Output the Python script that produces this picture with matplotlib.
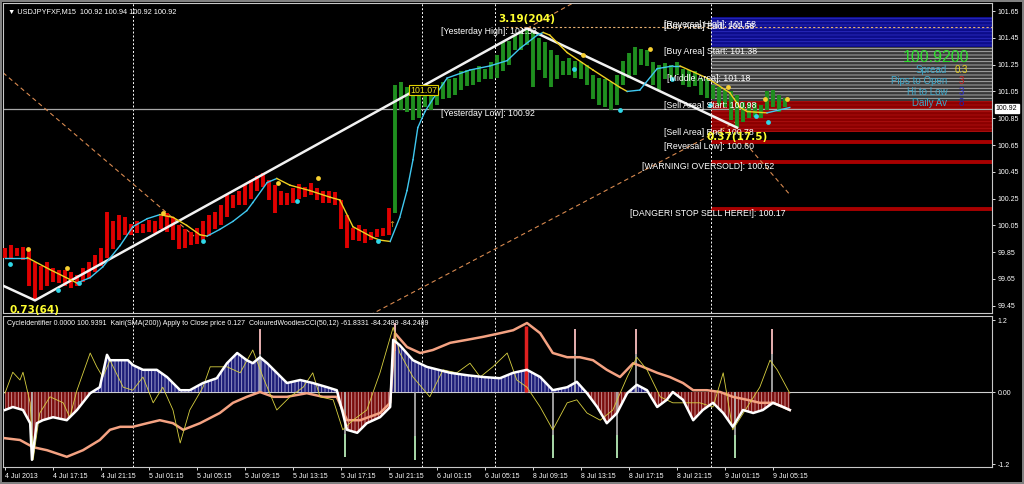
import matplotlib.pyplot as plt
import matplotlib.transforms as mtransforms

plt.rcParams['font.family'] = ['Liberation Sans', 'DejaVu Sans']
plt.rcParams['hatch.linewidth'] = 0.6

# price bars, one entry per bar on the chart
bar_high = [99.88, 99.90, 99.88, 99.89, 99.87, 99.78, 99.75, 99.78, 99.73, 99.72,
            99.72, 99.70, 99.68, 99.73, 99.78, 99.83, 99.88, 100.15, 100.08, 100.13,
            100.11, 100.06, 100.08, 100.06, 100.09, 100.08, 100.12, 100.14, 100.11, 100.05,
            100.02, 100.00, 100.03, 100.08, 100.13, 100.15, 100.20, 100.28, 100.28, 100.31,
            100.35, 100.39, 100.42, 100.44, 100.39, 100.35, 100.31, 100.29, 100.33, 100.36,
            100.34, 100.37, 100.33, 100.31, 100.31, 100.30, 100.24, 100.13, 100.03, 100.05,
            100.02, 100.00, 100.02, 100.03, 100.18,
            101.10, 101.12, 101.08, 101.05, 101.06, 101.08, 101.08, 101.10, 101.12, 101.14,
            101.15, 101.20, 101.21, 101.22, 101.24, 101.22, 101.27, 101.32, 101.42, 101.43,
            101.47, 101.49, 101.51, 101.49, 101.45, 101.42, 101.36, 101.32, 101.28, 101.30,
            101.28, 101.27, 101.25, 101.17, 101.15, 101.14, 101.12, 101.17, 101.28, 101.34,
            101.38, 101.37, 101.36, 101.27, 101.25, 101.26, 101.25, 101.27, 101.22, 101.21,
            101.20, 101.15, 101.14, 101.10, 101.08, 101.06, 101.05, 101.02, 100.97, 100.96,
            100.96, 100.95, 101.05, 101.06, 101.02, 101.00]
bar_low = [99.81, 99.81, 99.82, 99.79, 99.60, 99.49, 99.57, 99.60, 99.63, 99.62,
           99.60, 99.58, 99.60, 99.63, 99.66, 99.70, 99.75, 99.81, 99.87, 99.94,
           99.98, 99.98, 99.99, 99.99, 100.00, 99.99, 100.02, 100.00, 99.94, 99.87,
           99.88, 99.90, 99.91, 99.94, 99.97, 100.02, 100.05, 100.11, 100.18, 100.20,
           100.20, 100.25, 100.31, 100.34, 100.24, 100.14, 100.20, 100.20, 100.22, 100.25,
           100.26, 100.28, 100.24, 100.22, 100.22, 100.20, 100.02, 99.88, 99.94, 99.93,
           99.92, 99.94, 99.96, 99.97, 99.98,
           100.14, 100.91, 100.90, 100.84, 100.85, 100.93, 100.91, 100.95, 100.99, 101.00,
           101.02, 101.06, 101.09, 101.10, 101.12, 101.14, 101.14, 101.15, 101.20, 101.25,
           101.36, 101.36, 101.40, 101.08, 101.21, 101.15, 101.08, 101.14, 101.17, 101.17,
           101.15, 101.14, 101.10, 100.99, 100.95, 100.93, 100.91, 100.95, 101.10, 101.15,
           101.17, 101.25, 101.24, 101.10, 101.06, 101.14, 101.15, 101.17, 101.10, 101.08,
           101.09, 101.02, 101.00, 100.99, 100.94, 100.93, 100.84, 100.78, 100.82, 100.85,
           100.86, 100.85, 100.91, 100.93, 100.90, 100.93]
first_up_bar = 65
current_price = 100.92

# moving average (colour follows direction)
ma_bar = [0, 3.7, 7.5, 12, 14.2, 16.3, 19.2, 21.3, 23.7, 25.8, 28, 30.3, 32.5, 33.7, 35.8,
          38, 40.3, 41.3, 43.7, 45.3, 47.5, 50.8, 54.2, 55.8, 58, 61.3, 62.5, 64.2, 65.8, 67,
          68, 68.8, 70, 71.7, 73.7, 77.5, 80.8, 83.7, 85.8, 88.7, 89.7, 90.8, 93.7, 98, 102.5,
          103.7, 105.8, 108.7, 111.3, 112.5, 117, 120.8, 122.5, 123.7, 127, 130.8]
ma_price = [99.81, 99.81, 99.72, 99.62, 99.66, 99.74, 99.90, 100.04, 100.10, 100.13,
            100.11, 100.05, 99.98, 99.97, 100.02, 100.08, 100.16, 100.22, 100.37, 100.40,
            100.35, 100.31, 100.26, 100.24, 100.04, 99.96, 99.94, 99.93, 100.11, 100.31,
            100.54, 100.78, 100.90, 101.02, 101.15, 101.21, 101.24, 101.28, 101.37, 101.47,
            101.49, 101.47, 101.34, 101.21, 101.08, 101.05, 101.06, 101.22, 101.24, 101.24,
            101.15, 101.04, 100.93, 100.90, 100.89, 100.93]

frac_up_bar = [3.8, 10.3, 26.3, 45.5, 52.2, 96.3, 107.5, 120.5, 126.7, 130.3]
frac_up_price = [99.87, 99.73, 100.14, 100.37, 100.40, 101.32, 101.37, 101.08, 100.99, 100.99]
frac_dn_bar = [0.8, 8.8, 12.3, 33, 48.7, 62.2, 94.8, 102.5, 111.2, 117.5, 125.2, 127.2]
frac_dn_price = [99.76, 99.57, 99.62, 99.93, 100.23, 99.93, 101.22, 100.91, 101.14, 100.95, 100.87, 100.82]

zigzag_bar = [-0.33, 5, 87, 122]
zigzag_price = [99.60, 99.49, 101.52, 100.78]
zigzag_text = ['', '0.73(64)', '3.19(204)', '0.37(17.5)']

ext_bar = [87, 96.5]
ext_price = [101.52, 101.755]
channel_bar = [60.8, 121.7]
channel_price = [99.38, 100.82]
fan_bar = [-0.33, 31.5]
fan_price = [101.19, 99.97]
proj_bar = [122.5, 130.8]
proj_price = [100.71, 100.28]

session_start = [21.4, 69.5, 81.6, 117.6]
yday_high = 101.53
yday_high_from = 83.5
yday_low = 100.92

buy_zone = [101.38, 101.605]
mid_zone = [100.98, 101.38]
sell_zone = [100.75, 100.98]
warn_levels = [100.67, 100.52, 100.17]

level_text = ['[Reversal High]: 101.58', '[Buy Area] End: 101.58', '[Buy Area] Start: 101.38',
              '[Middle Area]: 101.18', '[Sell Area] Start: 100.98', '[Sell Area] End: 100.78',
              '[Reversal Low]: 100.60', '[WARNING! OVERSOLD]: 100.52',
              '[DANGER! STOP SELL HERE!]: 100.17', '[Yesterday High]: 101.53',
              '[Yesterday Low]: 100.92']
level_price = [101.58, 101.565, 101.38, 101.18, 100.98, 100.78, 100.67, 100.52, 100.17,
               101.53, 100.92]
level_bar = [109.8, 109.8, 109.8, 110.3, 109.8, 109.8, 109.8, 106.1, 104.1, 72.6, 72.6]

price_ticks = [99.45, 99.65, 99.85, 100.05, 100.25, 100.45, 100.65, 100.85, 101.05,
               101.25, 101.45, 101.65]

info_names = ['Spread', 'Pips to Open', 'Hi to Low', 'Daily Av']
info_values = ['0.3', '3', '3', '8']
info_colors = ['#e8d020', '#d02020', '#3030d0', '#2020a8']

# indicator window
cci_bar = [0, 1.3, 3, 4.2, 4.5, 5.3, 6.3, 8, 10.3, 12, 14.2, 15.8, 17, 17.5, 19.2, 20.5,
           21.3, 23, 25.3, 27, 29.2, 30.8, 33, 35.3, 37, 38.7, 40.3, 41.3, 42.5, 43.7, 45.3,
           47, 49.2, 51.3, 53.7, 55.3, 56.3, 57, 58.7, 60.3, 62.5, 64.2, 64.7, 65.8, 68, 70.3,
           74.2, 77, 79.7, 82.5, 84.7, 87, 89.2, 91.3, 93.7, 95.3, 97, 98.7, 100.3, 102, 103.7,
           105.3, 107, 108.7, 110.3, 111.3, 113, 114.7, 116.3, 118, 119.7, 121.3, 123, 124.7,
           126.3, 128, 129.7, 130.8]
cci_val = [-0.30, -0.25, -0.30, -0.52, -1.13, -0.52, -0.47, -0.42, -0.47, -0.30, -0.02, 0.08,
           0.62, 0.53, 0.53, 0.53, 0.45, 0.37, 0.37, 0.25, 0.03, 0.03, 0.15, 0.23, 0.48, 0.65,
           0.53, 0.48, 0.58, 0.48, 0.32, 0.15, 0.20, 0.15, 0.08, 0.03, -0.35, -0.63, -0.68,
           -0.52, -0.42, -0.25, 0.87, 0.78, 0.53, 0.42, 0.32, 0.28, 0.25, 0.23, 0.32, 0.37,
           0.25, 0.03, 0.08, 0.17, -0.02, -0.25, -0.52, -0.35, -0.02, 0.12, 0.03, -0.25, -0.13,
           0.0, -0.13, -0.47, -0.30, -0.18, -0.35, -0.58, -0.30, -0.35, -0.30, -0.18, -0.25,
           -0.30]
fast_bar = [0, 1.3, 2.5, 3, 4.2, 4.7, 5.8, 7.5, 9.7, 10.8, 12, 14.2, 15.3, 16.3, 17.5, 19.7,
            21.3, 23, 24.7, 26.3, 28, 29.2, 30.8, 33, 34.2, 37, 39.2, 41.3, 43, 45.3, 47.5,
            49.7, 51.3, 52.5, 54.7, 56.3, 58, 60.3, 62.5, 64.7, 65.8, 68, 70.8, 73, 75.3, 77.5,
            79.2, 81.3, 83.7, 85.3, 87, 89.2, 91.3, 93.7, 95.3, 97, 99.2, 101.3, 103.7, 105.3,
            107, 109.2, 111.3, 113.7, 115.8, 118, 119.7, 121.3, 123.7, 125.8, 127.5, 128.7, 130.8]
fast_val = [-0.02, 0.33, 0.20, 0.33, -0.18, -1.13, -0.35, -0.08, -0.18, -0.42, 0.03, 0.65,
            0.42, 0.25, 0.53, 0.08, 0.03, 0.25, -0.18, 0.08, -0.30, -0.85, -0.30, 0.08, 0.42,
            0.42, 0.32, 0.70, 0.25, -0.30, -0.08, 0.08, 0.32, -0.08, -0.13, -0.63, -0.47, -0.30,
            0.32, 1.08, 0.65, 0.25, -0.08, 0.37, 0.32, 0.48, 0.25, 0.42, 0.65, 0.20, 0.08,
            -0.25, -0.63, -0.18, -0.13, -0.35, -0.47, -0.30, 0.25, 0.58, 0.37, -0.08, -0.18,
            -0.18, -0.18, -0.25, 0.32, -0.63, -0.25, 0.08, 0.53, 0.37, -0.02]
kairi_bar = [0, 2.5, 4.7, 7, 10.3, 13, 15.8, 17.5, 19.2, 21.3, 23.7, 25.8, 28, 29.7, 32.5,
             35.8, 38, 40.3, 42.5, 44.7, 47, 50.3, 53, 55.3, 57, 59.2, 62.5, 64.2, 65, 67, 69.2,
             71.3, 74.2, 77, 79.7, 82.5, 84.7, 87, 89.2, 91.3, 93.7, 95.8, 98, 100.3, 102.5,
             104.7, 106.3, 108.7, 110.8, 113, 114.7, 117, 119.2, 121.3, 123.7, 125.8, 128, 130.8]
kairi_val = [-0.77, -0.80, -0.92, -0.97, -1.08, -0.97, -0.80, -0.63, -0.58, -0.58, -0.52,
             -0.47, -0.52, -0.63, -0.52, -0.35, -0.18, -0.08, 0.0, -0.08, -0.08, -0.02, -0.08,
             -0.08, -0.47, -0.47, -0.35, -0.18, 0.98, 0.75, 0.65, 0.70, 0.82, 0.87, 0.92, 0.98,
             1.03, 1.15, 0.98, 0.65, 0.58, 0.58, 0.53, 0.37, 0.25, 0.48, 0.42, 0.32, 0.25, 0.15,
             0.03, 0.03, 0.0, -0.08, -0.13, -0.18, -0.18, -0.30]
spike_up_bar = [42.5, 65, 95, 105.2, 127.8]
spike_up_val = [1.05, 1.15, 1.05, 1.05, 1.05]
spike_dn_bar = [4.5, 56.7, 68.3, 91.3, 102, 121.7]
spike_dn_val = [-1.13, -1.08, -1.13, -1.1, -1.1, -1.1]
red_spike_bar = 86.8
red_spike_val = 1.1

tick_bar = [0, 8, 16, 24, 32, 40, 48, 56, 64, 72, 80, 88, 96, 104, 112, 120, 128]
tick_labels = ['4 Jul 2013', '4 Jul 17:15', '4 Jul 21:15', '5 Jul 01:15', '5 Jul 05:15',
               '5 Jul 09:15', '5 Jul 13:15', '5 Jul 17:15', '5 Jul 21:15', '6 Jul 01:15',
               '6 Jul 05:15', '8 Jul 09:15', '8 Jul 13:15', '8 Jul 17:15', '8 Jul 21:15',
               '9 Jul 01:15', '9 Jul 05:15']

XMIN, XMAX = -0.33, 164.5


def style_axes(ax):
    ax.set_facecolor('black')
    for s in ax.spines.values():
        s.set_color('#c8c8c8')
        s.set_linewidth(0.8)
    ax.yaxis.tick_right()
    ax.tick_params(axis='y', colors='white', labelsize=5, length=2, pad=2, width=0.6)
    ax.set_xlim(XMIN, XMAX)
    for x in session_start:
        ax.axvline(x, color='white', lw=0.7, ls=(0, (2, 2)), zorder=1)


def draw_price(ax):
    style_axes(ax)
    ax.set_ylim(99.396, 101.71)
    ax.tick_params(axis='x', bottom=False, labelbottom=False)
    ax.set_yticks(price_ticks, ['%.2f' % p for p in price_ticks])

    # zones to the right of the last session start
    x0 = session_start[-1]
    ax.fill_between([x0, XMAX], *buy_zone, facecolor='#0c0c8a', edgecolor='#2c2cc0',
                    hatch='-----', lw=0, zorder=0)
    ax.fill_between([x0, XMAX], *mid_zone, facecolor='#383838', edgecolor='#b8b8b8',
                    hatch='-----', lw=0, zorder=0)
    ax.fill_between([x0, XMAX], *sell_zone, facecolor='#8a0000', edgecolor='#b01010',
                    hatch='-----', lw=0, zorder=0)
    ax.hlines(warn_levels, x0, XMAX, color='#a80000', lw=2.8, zorder=0)

    ax.axhline(yday_low, color='#a8a8a8', lw=0.9, zorder=1)
    ax.hlines(yday_high, yday_high_from, XMAX, color='#e8b070', lw=0.8, ls=(0, (2, 2)), zorder=1)

    # dashed fan / channel lines
    for bx, py in [(ext_bar, ext_price), (channel_bar, channel_price),
                   (fan_bar, fan_price), (proj_bar, proj_price)]:
        ax.plot(bx, py, color='#d88a50', lw=0.8, ls=(0, (4, 3)), zorder=2)

    bars = range(len(bar_high))
    colors = ['#e00000' if i < first_up_bar else '#1f8f1f' for i in bars]
    ax.vlines(list(bars), bar_low, bar_high, colors=colors, lw=2.8, zorder=3)

    ax.plot(zigzag_bar, zigzag_price, color='#f2f2f2', lw=1.8, zorder=4)

    for i in range(len(ma_bar) - 1):
        c = '#40c8f0' if ma_price[i + 1] >= ma_price[i] else '#f0d020'
        ax.plot(ma_bar[i:i + 2], ma_price[i:i + 2], color=c, lw=1.0, zorder=5)

    ax.scatter(frac_up_bar, frac_up_price, s=12, color='#f8d030', zorder=6, lw=0)
    ax.scatter(frac_dn_bar, frac_dn_price, s=12, color='#30d8e8', zorder=6, lw=0)

    for i in range(1, len(zigzag_bar)):
        up = zigzag_price[i] > zigzag_price[i - 1]
        ax.annotate(zigzag_text[i], (zigzag_bar[i], zigzag_price[i]),
                    xytext=(0, 3 if up else -3), textcoords='offset points',
                    ha='center', va='bottom' if up else 'top',
                    color='#ffff30', fontsize=7.5, fontweight='bold',
                    family='DejaVu Sans', zorder=8)

    for t, p, b in zip(level_text, level_price, level_bar):
        ax.text(b, p, t, color='white', fontsize=6.3, va='top', ha='left', zorder=7)

    ax.text(67.5, 101.06, '101.07', color='#f0e020', fontsize=6.3, va='center',
            bbox=dict(fc='black', ec='#e0d000', lw=0.8, pad=0.6), zorder=7)
    ax.text(64.4, 100.06, '\u2191', color='#e0a020', fontsize=6, ha='center',
            va='center', family='DejaVu Sans', zorder=7)

    ax.text(0.005, 0.985, '\u25bc USDJPYFXF,M15  100.92 100.94 100.92 100.92',
            transform=ax.transAxes, color='white', fontsize=5.3, va='top', ha='left')

    ax.text(0.977, 0.823, '%.4f' % current_price, transform=ax.transAxes,
            color='#30e030', fontsize=11.5, ha='right', va='center')
    for i, (n, v, c) in enumerate(zip(info_names, info_values, info_colors)):
        y = 0.784 - i * 0.0355
        ax.text(0.9545, y, n, transform=ax.transAxes, color='#3da7c8', fontsize=7,
                ha='right', va='center')
        ax.text(0.969, y, v, transform=ax.transAxes, color=c, fontsize=7,
                ha='center', va='center')

    trans = mtransforms.blended_transform_factory(ax.transAxes, ax.transData)
    ax.text(1.004, current_price, '%.2f' % current_price, transform=trans, color='black',
            fontsize=5, va='center', ha='left',
            bbox=dict(fc='white', ec='white', pad=0.8), zorder=9, clip_on=False)


def draw_indicator(ax):
    style_axes(ax)
    ax.set_ylim(-1.25, 1.267)
    ax.set_yticks([1.2, 0, -1.2], ['1.2', '0.00', '-1.2'])
    ax.set_xticks(tick_bar, tick_labels)
    ax.tick_params(axis='x', colors='white', labelsize=5, length=2, pad=2, width=0.6)
    for lab in ax.get_xticklabels():
        lab.set_ha('left')

    ax.axhline(0, color='#d0d0d0', lw=0.8, zorder=1)
    pos = [v >= 0 for v in cci_val]
    neg = [v <= 0 for v in cci_val]
    ax.fill_between(cci_bar, 0, cci_val, where=pos, interpolate=True, facecolor='#1c1c78',
                    edgecolor='#a8a8d0', hatch='|||||', lw=0, zorder=1)
    ax.fill_between(cci_bar, 0, cci_val, where=neg, interpolate=True, facecolor='#7a0c0c',
                    edgecolor='#d0a0a0', hatch='|||||', lw=0, zorder=1)

    ax.vlines(spike_up_bar, 0, spike_up_val, color='#b8b8b8', lw=1.2, zorder=2)
    ax.vlines(spike_up_bar, [v * 0.6 for v in spike_up_val], spike_up_val,
              color='#f0b0b0', lw=1.2, zorder=2)
    ax.vlines(spike_dn_bar, 0, spike_dn_val, color='#b8b8b8', lw=1.2, zorder=2)
    ax.vlines(spike_dn_bar, [v * 0.65 for v in spike_dn_val], spike_dn_val,
              color='#a8e0a8', lw=1.2, zorder=2)
    ax.vlines(red_spike_bar, 0, red_spike_val, color='#e02020', lw=2.5, zorder=2)

    ax.plot(kairi_bar, kairi_val, color='#f4a282', lw=1.8, zorder=3)
    ax.plot(fast_bar, fast_val, color='#d8d040', lw=0.6, zorder=4)
    ax.plot(cci_bar, cci_val, color='white', lw=1.8, zorder=5)

    ax.text(0.004, 0.975,
            'CycleIdentifier 0.0000 100.9391  Kairi(SMA(200)) Apply to Close price 0.127  '
            'ColouredWoodiesCCI(50,12) -61.8331 -84.2489 -84.2489',
            transform=ax.transAxes, color='white', fontsize=5, va='top', ha='left', zorder=9)


def main():
    fig = plt.figure(figsize=(10.24, 4.84), dpi=100, facecolor='black')
    fig.patch.set_edgecolor('#808080')
    fig.patch.set_linewidth(1.5)
    ax1 = fig.add_axes([3 / 1024, 1 - 313 / 484, 989 / 1024, 310 / 484])
    ax2 = fig.add_axes([3 / 1024, 1 - 467 / 484, 989 / 1024, 151 / 484])
    draw_price(ax1)
    draw_indicator(ax2)
    fig.savefig('out.png', dpi=100, facecolor='black', edgecolor='#808080')
    plt.close(fig)


if __name__ == '__main__':
    main()
